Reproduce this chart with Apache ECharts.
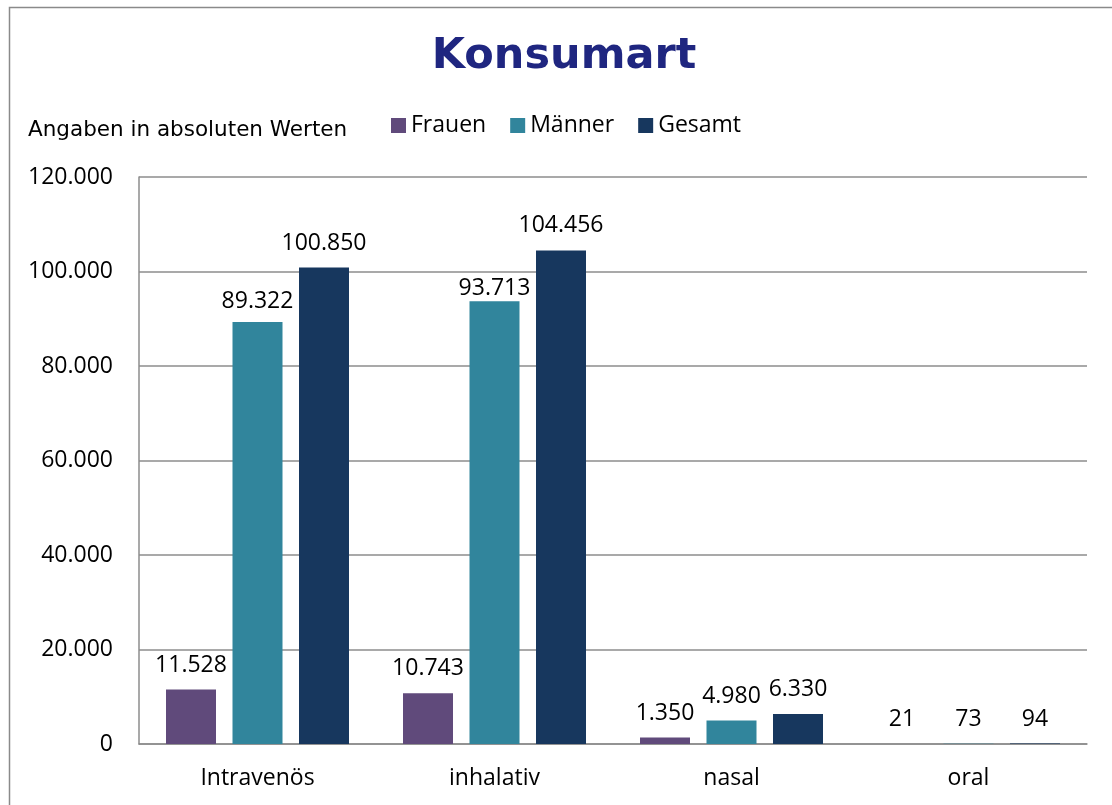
<!DOCTYPE html>
<html>
<head>
<meta charset="utf-8">
<script src="https://cdn.jsdelivr.net/npm/echarts@6/dist/echarts.min.js"></script>
<style>
  html, body { margin: 0; padding: 0; background: #fff; }
  #chart { width: 1112px; height: 805px; }
</style>
</head>
<body>
<div id="chart"></div>
<script>
var categories = ['Intravenös', 'inhalativ', 'nasal', 'oral'];
var frauen = [11528, 10743, 1350, 21];
var maenner = [89322, 93713, 4980, 73];
var gesamt = [100850, 104456, 6330, 94];

var labelFont = 'Open Sans';
var fontSize = 23;

function fmt(v) {
    return String(v).replace(/\B(?=(\d{3})+(?!\d))/g, '.');
}

// labelDist: optional per-bar label distance (same order as categories)
function barSeries(name, color, data, labelDist) {
    return {
        name: name,
        type: 'bar',
        barWidth: 50,
        barGap: '33%',
        itemStyle: { color: color },
        label: {
            show: true,
            position: 'top',
            distance: 13,
            color: '#000',
            fontFamily: labelFont,
            fontSize: fontSize,
            formatter: function (p) { return fmt(p.value); }
        },
        data: data.map(function (v, i) {
            if (labelDist && labelDist[i] != null) {
                return { value: v, label: { distance: labelDist[i] } };
            }
            return v;
        })
    };
}

var chart = echarts.init(document.getElementById('chart'));

var option = {
    animation: false,
    title: {
        text: 'Konsumart',
        left: 559,
        top: 30,
        textAlign: 'center',
        textStyle: {
            fontFamily: 'DejaVu Sans',
            fontWeight: 'bold',
            fontSize: 43,
            color: '#1f2680'
        }
    },
    legend: {
        left: 386,
        top: 109,
        itemWidth: 15,
        itemHeight: 15,
        itemGap: 24,
        icon: 'rect',
        textStyle: {
            fontFamily: labelFont,
            fontSize: fontSize,
            lineHeight: 22,
            color: '#000'
        },
        data: ['Frauen', 'Männer', 'Gesamt']
    },
    graphic: [
        {
            type: 'rect',
            shape: { x: 9.5, y: 7.5, width: 1300, height: 1000 },
            style: { fill: 'none', stroke: '#8a8a8a', lineWidth: 1.5 },
            silent: true
        },
        {
            type: 'text',
            left: 28,
            top: 119,
            style: {
                text: 'Angaben in absoluten Werten',
                fontFamily: 'DejaVu Sans',
                fontSize: 21.5,
                fill: '#000'
            }
        }
    ],
    grid: {
        left: 139,
        right: 25,
        top: 177,
        bottom: 61
    },
    xAxis: {
        type: 'category',
        data: categories,
        axisTick: { show: false },
        axisLine: { lineStyle: { color: '#8c8c8c', width: 1.5 } },
        axisLabel: {
            color: '#000',
            fontFamily: labelFont,
            fontSize: fontSize,
            margin: 23
        }
    },
    yAxis: {
        type: 'value',
        min: 0,
        max: 120000,
        interval: 20000,
        axisTick: { show: false },
        axisLine: { show: true, lineStyle: { color: '#8c8c8c', width: 1.5 } },
        splitLine: { lineStyle: { color: '#8c8c8c', width: 1.5 } },
        axisLabel: {
            color: '#000',
            fontFamily: labelFont,
            fontSize: fontSize,
            margin: 26,
            formatter: fmt
        }
    },
    series: [
        barSeries('Frauen', '#604a7b', frauen),
        barSeries('Männer', '#31859c', maenner, [9, 1]),
        barSeries('Gesamt', '#17375e', gesamt)
    ]
};

chart.setOption(option);
</script>
</body>
</html>
